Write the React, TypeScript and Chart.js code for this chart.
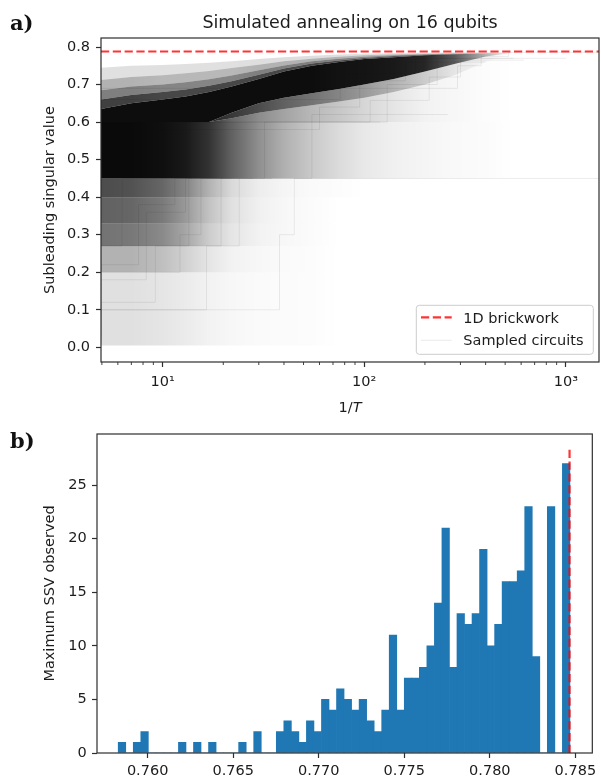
import React, { useEffect, useRef } from "react";
import { Chart, registerables } from "chart.js";

Chart.register(...registerables);

const SANS = "'DejaVu Sans', 'Noto Sans', sans-serif";
const SERIF = "'DejaVu Serif', 'Liberation Serif', serif";
const INK = "#1c1c1c";
const SPINE = "#2e2e2e";
const RED = "rgba(255, 0, 0, 0.8)";
const BLUE = "#1f77b4";
const FS = 14.5;

// ---------------- panel a) data ----------------
const A_TITLE = "Simulated annealing on 16 qubits";
const A_YLABEL = "Subleading singular value";
const A_XLABEL = "1/";
const A_XLABEL_VAR = "T";
const A_LEGEND_LABELS = ["1D brickwork", "Sampled circuits"];
const A_BRICKWORK = 0.788;
const A_X_LIMITS = [4.95, 1460];
const A_Y_LIMITS = [-0.039, 0.824];
const A_X_TICKS = [5, 6, 7, 8, 9, 10, 20, 30, 40, 50, 60, 70, 80, 90, 100, 200, 300, 400, 500, 600, 700, 800, 900, 1000];
const A_X_MAJOR = [10, 100, 1000];
const A_X_MAJOR_LABELS = ["10¹", "10²", "10³"];

// density of the sampled-circuit cloud
const CLOUD_X = [4.95, 7, 10, 13, 17, 22, 30, 40, 55, 75, 100, 140, 200, 280, 400, 550];
// plateau 0.45 - 0.60
const MID_EDGES = [0.45, 0.6];
const MID_ALPHA = [0.96, 0.96, 0.94, 0.9, 0.8, 0.62, 0.44, 0.31, 0.21, 0.14, 0.09, 0.06, 0.04, 0.025, 0.015, 0];
// above the 0.60 plateau, below the dense core
const UNDER_MID = [0.6, 0.6, 0.6, 0.6, 0.6, 0.61, 0.625, 0.635, 0.645, 0.655, 0.665, 0.68, 0.7, 0.725, 0.76, 0.785];
const UNDER1_ALPHA = [0.9, 0.9, 0.9, 0.9, 0.8, 0.6, 0.45, 0.36, 0.28, 0.22, 0.16, 0.1, 0.05, 0.03, 0.01, 0];
const UNDER2_ALPHA = [0.9, 0.9, 0.9, 0.9, 0.85, 0.78, 0.7, 0.62, 0.55, 0.48, 0.4, 0.3, 0.2, 0.1, 0.04, 0];
// dense core
const CORE_LOW = [0.6, 0.6, 0.6, 0.6, 0.6, 0.625, 0.65, 0.665, 0.677, 0.688, 0.7, 0.715, 0.735, 0.755, 0.775, 0.785];
const CORE_HIGH = [0.635, 0.65, 0.66, 0.668, 0.68, 0.695, 0.715, 0.735, 0.75, 0.76, 0.768, 0.773, 0.778, 0.781, 0.783, 0.785];
const CORE_ALPHA = [0.95, 0.95, 0.95, 0.95, 0.95, 0.95, 0.95, 0.95, 0.95, 0.93, 0.92, 0.9, 0.85, 0.65, 0.3, 0];
// fuzzy upper edge
const HALO_A = [0.66, 0.672, 0.68, 0.687, 0.697, 0.709, 0.726, 0.743, 0.756, 0.764, 0.771, 0.776, 0.78, 0.782, 0.784, 0.785];
const HALO_B = [0.685, 0.695, 0.7, 0.706, 0.714, 0.724, 0.738, 0.751, 0.762, 0.769, 0.774, 0.778, 0.781, 0.783, 0.785, 0.786];
const HALO_C = [0.712, 0.72, 0.725, 0.73, 0.736, 0.744, 0.753, 0.762, 0.769, 0.774, 0.778, 0.781, 0.783, 0.785, 0.786, 0.786];
const HALO_D = [0.745, 0.75, 0.752, 0.755, 0.758, 0.762, 0.768, 0.773, 0.777, 0.78, 0.782, 0.784, 0.785, 0.786, 0.786, 0.786];
const HALO_A_ALPHA = [0.75, 0.75, 0.72, 0.72, 0.72, 0.72, 0.72, 0.72, 0.72, 0.72, 0.7, 0.65, 0.58, 0.45, 0.2, 0.04];
const HALO_B_ALPHA = [0.5, 0.5, 0.48, 0.48, 0.48, 0.48, 0.5, 0.5, 0.5, 0.5, 0.48, 0.45, 0.4, 0.3, 0.14, 0.03];
const HALO_C_ALPHA = [0.3, 0.3, 0.28, 0.28, 0.28, 0.28, 0.3, 0.3, 0.3, 0.3, 0.28, 0.26, 0.22, 0.16, 0.08, 0.02];
const HALO_D_ALPHA = [0.12, 0.12, 0.12, 0.12, 0.12, 0.12, 0.13, 0.13, 0.13, 0.13, 0.12, 0.11, 0.09, 0.07, 0.04, 0.01];
// below the 0.45 plateau
const LOW_A_EDGES = [0.4, 0.45];
const LOW_A_ALPHA = [0.7, 0.68, 0.6, 0.48, 0.3, 0.15, 0.07, 0.04, 0.02, 0.01, 0, 0, 0, 0, 0, 0];
const LOW_B_EDGES = [0.33, 0.4];
const LOW_B_ALPHA = [0.62, 0.6, 0.52, 0.4, 0.24, 0.12, 0.06, 0.03, 0.015, 0, 0, 0, 0, 0, 0, 0];
const LOW_C_EDGES = [0.27, 0.33];
const LOW_C_ALPHA = [0.55, 0.53, 0.46, 0.35, 0.2, 0.1, 0.05, 0.03, 0.015, 0, 0, 0, 0, 0, 0, 0];
const LOW_D_EDGES = [0.2, 0.27];
const LOW_D_ALPHA = [0.3, 0.3, 0.25, 0.18, 0.1, 0.05, 0.03, 0.02, 0.01, 0, 0, 0, 0, 0, 0, 0];
const LOW_E_EDGES = [0.005, 0.2];
const LOW_E_ALPHA = [0.12, 0.12, 0.1, 0.08, 0.05, 0.03, 0.02, 0.015, 0.01, 0, 0, 0, 0, 0, 0, 0];

// individual faint annealing runs (x where a level starts, level)
const RUN_1 = [[4.95, 0.45], [1460, 0.45]];
const RUN_2 = [[4.95, 0.6], [290, 0.69], [380, 0.75], [520, 0.775], [760, 0.786], [1460, 0.786]];
const RUN_3 = [[4.95, 0.45], [107, 0.6], [210, 0.658], [300, 0.72], [420, 0.765], [620, 0.765]];
const RUN_4 = [[4.95, 0.45], [130, 0.6], [230, 0.7], [750, 0.77], [1000, 0.77]];
const RUN_5 = [[4.95, 0.6], [76, 0.66], [180, 0.73], [330, 0.77], [550, 0.77]];
const RUN_6 = [[4.95, 0.01], [38, 0.1], [45, 0.3], [55, 0.45], [140, 0.62], [260, 0.62]];
const RUN_7 = [[4.95, 0.2], [24, 0.27], [32, 0.45], [60, 0.6], [120, 0.6]];
const RUN_8 = [[4.95, 0.45], [60, 0.58], [95, 0.64], [160, 0.71], [250, 0.76], [400, 0.76]];
const RUN_9 = [[4.95, 0.08], [7.6, 0.22], [11.5, 0.38], [16, 0.45], [20, 0.45]];
const RUN_10 = [[4.95, 0.03], [9.2, 0.12], [13.5, 0.27], [18.5, 0.45], [24, 0.45]];
const RUN_11 = [[4.95, 0.15], [6.3, 0.27], [10.4, 0.45], [14, 0.45]];
const RUN_12 = [[4.95, 0.05], [12.2, 0.2], [15.5, 0.3], [21, 0.45], [28, 0.45]];
const RUN_13 = [[4.95, 0.1], [8.3, 0.18], [13, 0.36], [17, 0.45], [22, 0.45]];
const RUN_14 = [[4.95, 0.02], [16.5, 0.1], [19.5, 0.27], [26, 0.45], [35, 0.45]];

// ---------------- panel b) data ----------------
const B_YLABEL = "Maximum SSV observed";
const B_BRICKWORK = 0.78466;
const B_VLINE_TOP = 28.35;
const B_X_LIMITS = [0.75704, 0.78599];
const B_Y_LIMITS = [0, 29.77];
const HIST_START = 0.75828;
const HIST_BIN = 0.00044;
const HIST_COUNTS = [
  1, 0, 1, 2, 0, 0, 0, 0, 1, 0,
  1, 0, 1, 0, 0, 0, 1, 0, 2, 0,
  0, 2, 3, 2, 1, 3, 2, 5, 4, 6,
  5, 4, 5, 3, 2, 4, 11, 4, 7, 7,
  8, 10, 14, 21, 8, 13, 12, 13, 19, 10,
  12, 16, 16, 17, 23, 9, 0, 23, 0, 27,
];

Chart.defaults.font.family = SANS;
Chart.defaults.color = INK;

function alphaGradient(alphas: number[]) {
  return (c: any) => {
    const chart = c.chart;
    const xs = chart.scales && chart.scales.x;
    if (!chart.chartArea || !xs) return "rgba(0,0,0,0)";
    const p0 = xs.getPixelForValue(CLOUD_X[0]);
    const p1 = xs.getPixelForValue(CLOUD_X[CLOUD_X.length - 1]);
    const g = chart.ctx.createLinearGradient(p0, 0, p1, 0);
    CLOUD_X.forEach((x, i) => {
      const t = Math.min(1, Math.max(0, (xs.getPixelForValue(x) - p0) / (p1 - p0)));
      g.addColorStop(t, `rgba(0,0,0,${alphas[i]})`);
    });
    return g;
  };
}

const hidden = { borderWidth: 0, borderColor: "rgba(0,0,0,0)", pointRadius: 0, fill: false };

function bandPair(low: number[] | number, high: number[] | number, alpha: number[]) {
  const mk = (v: number[] | number) =>
    Array.isArray(v)
      ? CLOUD_X.map((x, i) => ({ x, y: v[i] }))
      : [{ x: CLOUD_X[0], y: v }, { x: CLOUD_X[CLOUD_X.length - 1], y: v }];
  return [
    { ...hidden, data: mk(low) },
    { ...hidden, data: mk(high), fill: "-1", backgroundColor: alphaGradient(alpha) },
  ];
}

function run(points: number[][]) {
  return {
    data: points.map(([x, y]) => ({ x, y })),
    stepped: "after",
    borderColor: "rgba(0,0,0,0.08)",
    borderWidth: 1,
    pointRadius: 0,
    fill: false,
  };
}

function line(ctx: CanvasRenderingContext2D, x0: number, y0: number, x1: number, y1: number) {
  ctx.beginPath();
  ctx.moveTo(x0, y0);
  ctx.lineTo(x1, y1);
  ctx.stroke();
}

function roundRect(ctx: CanvasRenderingContext2D, x: number, y: number, w: number, h: number, r: number) {
  ctx.beginPath();
  ctx.moveTo(x + r, y);
  ctx.lineTo(x + w - r, y);
  ctx.arcTo(x + w, y, x + w, y + r, r);
  ctx.lineTo(x + w, y + h - r);
  ctx.arcTo(x + w, y + h, x + w - r, y + h, r);
  ctx.lineTo(x + r, y + h);
  ctx.arcTo(x, y + h, x, y + h - r, r);
  ctx.lineTo(x, y + r);
  ctx.arcTo(x, y, x + r, y, r);
  ctx.closePath();
}

const spinesPlugin = {
  id: "spines",
  afterDraw(chart: any) {
    const { ctx, chartArea: ca } = chart;
    ctx.save();
    ctx.strokeStyle = SPINE;
    ctx.lineWidth = 1.2;
    ctx.strokeRect(ca.left, ca.top, ca.right - ca.left, ca.bottom - ca.top);
    ctx.restore();
  },
};

const panelAPlugin = {
  id: "panelA",
  afterDraw(chart: any) {
    const { ctx, chartArea: ca, scales } = chart;
    const xs = scales.x;
    ctx.save();
    // minor ticks of the log axis
    ctx.strokeStyle = SPINE;
    ctx.lineWidth = 0.9;
    A_X_TICKS.forEach((v) => {
      if (A_X_MAJOR.includes(v)) return;
      const p = xs.getPixelForValue(v);
      line(ctx, p, ca.bottom, p, ca.bottom + 3);
    });
    // title
    ctx.fillStyle = INK;
    ctx.textAlign = "center";
    ctx.textBaseline = "alphabetic";
    ctx.font = `17.5px ${SANS}`;
    ctx.fillText(A_TITLE, (ca.left + ca.right) / 2, ca.top - 9.7);
    // x label 1/T with italic T
    ctx.font = `${FS}px ${SANS}`;
    const w1 = ctx.measureText(A_XLABEL).width;
    ctx.font = `italic ${FS}px ${SANS}`;
    const w2 = ctx.measureText(A_XLABEL_VAR).width;
    const x0 = (ca.left + ca.right) / 2 - (w1 + w2) / 2;
    ctx.textAlign = "left";
    ctx.font = `${FS}px ${SANS}`;
    ctx.fillText(A_XLABEL, x0, ca.bottom + 50.3);
    ctx.font = `italic ${FS}px ${SANS}`;
    ctx.fillText(A_XLABEL_VAR, x0 + w1, ca.bottom + 50.3);
    // legend
    const bw = 177, bh = 49;
    const bx = ca.right - 5.7 - bw;
    const by = ca.bottom - 7.7 - bh;
    roundRect(ctx, bx, by, bw, bh, 3);
    ctx.fillStyle = "rgba(255,255,255,0.8)";
    ctx.fill();
    ctx.strokeStyle = "#cccccc";
    ctx.lineWidth = 1;
    ctx.stroke();
    ctx.strokeStyle = RED;
    ctx.lineWidth = 2.2;
    ctx.setLineDash([8.2, 3.6]);
    line(ctx, bx + 4.7, by + 12, bx + 35.4, by + 12);
    ctx.setLineDash([]);
    ctx.strokeStyle = "rgba(0,0,0,0.07)";
    ctx.lineWidth = 1.2;
    line(ctx, bx + 4.7, by + 35, bx + 35.4, by + 35);
    ctx.fillStyle = INK;
    ctx.font = `${FS}px ${SANS}`;
    ctx.fillText(A_LEGEND_LABELS[0], bx + 47, by + 17.2);
    ctx.fillText(A_LEGEND_LABELS[1], bx + 47, by + 39.5);
    ctx.restore();
  },
};

function configA(): any {
  const bands = [
    ...bandPair(LOW_E_EDGES[0], LOW_E_EDGES[1], LOW_E_ALPHA),
    ...bandPair(LOW_D_EDGES[0], LOW_D_EDGES[1], LOW_D_ALPHA),
    ...bandPair(LOW_C_EDGES[0], LOW_C_EDGES[1], LOW_C_ALPHA),
    ...bandPair(LOW_B_EDGES[0], LOW_B_EDGES[1], LOW_B_ALPHA),
    ...bandPair(LOW_A_EDGES[0], LOW_A_EDGES[1], LOW_A_ALPHA),
    ...bandPair(MID_EDGES[0], MID_EDGES[1], MID_ALPHA),
    ...bandPair(MID_EDGES[1], UNDER_MID, UNDER1_ALPHA),
    ...bandPair(UNDER_MID, CORE_LOW, UNDER2_ALPHA),
    ...bandPair(CORE_LOW, CORE_HIGH, CORE_ALPHA),
    ...bandPair(CORE_HIGH, HALO_A, HALO_A_ALPHA),
    ...bandPair(HALO_A, HALO_B, HALO_B_ALPHA),
    ...bandPair(HALO_B, HALO_C, HALO_C_ALPHA),
    ...bandPair(HALO_C, HALO_D, HALO_D_ALPHA),
  ];
  const runs = [RUN_1, RUN_2, RUN_3, RUN_4, RUN_5, RUN_6, RUN_7, RUN_8, RUN_9, RUN_10, RUN_11, RUN_12, RUN_13, RUN_14];
  return {
    type: "line",
    data: {
      datasets: [
        {
          data: [
            { x: A_X_LIMITS[0], y: A_BRICKWORK },
            { x: A_X_LIMITS[1], y: A_BRICKWORK },
          ],
          borderColor: RED,
          borderWidth: 2.2,
          borderDash: [8.2, 3.6],
          pointRadius: 0,
          fill: false,
        },
        ...runs.map(run),
        ...bands,
      ],
    },
    options: {
      animation: false,
      responsive: false,
      events: [],
      layout: { padding: { top: 38, right: 2, left: 0, bottom: 0 } },
      plugins: { legend: { display: false }, tooltip: { enabled: false } },
      scales: {
        x: {
          type: "logarithmic",
          min: A_X_LIMITS[0],
          max: A_X_LIMITS[1],
          afterBuildTicks: (s: any) => {
            s.ticks = A_X_TICKS.map((v) => ({ value: v, major: A_X_MAJOR.includes(v) }));
          },
          afterFit: (s: any) => {
            s.height = 58;
          },
          ticks: {
            autoSkip: false,
            maxRotation: 0,
            padding: 6.6,
            font: { size: FS },
            color: INK,
            callback: (v: number) => {
              const i = A_X_MAJOR.indexOf(v);
              return i >= 0 ? A_X_MAJOR_LABELS[i] : "";
            },
          },
          grid: {
            drawOnChartArea: false,
            drawTicks: true,
            tickLength: 5,
            tickWidth: 1.2,
            color: SPINE,
            tickColor: (c: any) => (c.tick && A_X_MAJOR.includes(c.tick.value) ? SPINE : "rgba(0,0,0,0)"),
          },
          border: { display: false },
        },
        y: {
          type: "linear",
          min: A_Y_LIMITS[0],
          max: A_Y_LIMITS[1],
          afterFit: (s: any) => {
            s.width = 101;
          },
          ticks: {
            stepSize: 0.1,
            includeBounds: false,
            padding: 6,
            font: { size: FS },
            color: INK,
            callback: (v: number) => v.toFixed(1),
          },
          title: {
            display: true,
            text: A_YLABEL,
            font: { size: FS },
            color: INK,
            padding: { top: 41.8, bottom: 0 },
          },
          grid: { drawOnChartArea: false, tickLength: 5, tickWidth: 1.2, color: SPINE },
          border: { display: false },
        },
      },
    },
    plugins: [spinesPlugin, panelAPlugin],
  };
}

function configB(): any {
  return {
    type: "bar",
    data: {
      datasets: [
        {
          type: "line",
          data: [
            { x: B_BRICKWORK, y: 0 },
            { x: B_BRICKWORK, y: B_VLINE_TOP },
          ],
          borderColor: RED,
          borderWidth: 2.2,
          borderDash: [8.2, 3.6],
          pointRadius: 0,
          fill: false,
        },
        {
          type: "bar",
          data: HIST_COUNTS.map((c, i) => ({ x: HIST_START + (i + 0.5) * HIST_BIN, y: c })),
          backgroundColor: BLUE,
          borderWidth: 0,
          barPercentage: 1,
          categoryPercentage: 1,
        },
      ],
    },
    options: {
      animation: false,
      responsive: false,
      events: [],
      layout: { padding: { top: 8, right: 5, left: 0, bottom: 0 } },
      plugins: { legend: { display: false }, tooltip: { enabled: false } },
      scales: {
        x: {
          type: "linear",
          min: B_X_LIMITS[0],
          max: B_X_LIMITS[1],
          offset: false,
          afterFit: (s: any) => {
            s.height = 27;
          },
          ticks: {
            stepSize: 0.005,
            includeBounds: false,
            autoSkip: false,
            maxRotation: 0,
            padding: 4.7,
            font: { size: FS },
            color: INK,
            callback: (v: number) => v.toFixed(3),
          },
          grid: { drawOnChartArea: false, offset: false, tickLength: 5, tickWidth: 1.2, color: SPINE },
          border: { display: false },
        },
        y: {
          type: "linear",
          min: B_Y_LIMITS[0],
          max: B_Y_LIMITS[1],
          afterFit: (s: any) => {
            s.width = 97;
          },
          ticks: {
            stepSize: 5,
            includeBounds: false,
            padding: 5.3,
            font: { size: FS },
            color: INK,
            callback: (v: number) => String(Math.round(v)),
          },
          title: {
            display: true,
            text: B_YLABEL,
            font: { size: FS },
            color: INK,
            padding: { top: 41.8, bottom: 0 },
          },
          grid: { drawOnChartArea: false, tickLength: 5, tickWidth: 1.2, color: SPINE },
          border: { display: false },
        },
      },
    },
    plugins: [spinesPlugin],
  };
}

export default function App() {
  const refA = useRef<HTMLCanvasElement>(null);
  const refB = useRef<HTMLCanvasElement>(null);

  useEffect(() => {
    const a = new Chart(refA.current as HTMLCanvasElement, configA());
    const b = new Chart(refB.current as HTMLCanvasElement, configB());
    return () => {
      a.destroy();
      b.destroy();
    };
  }, []);

  const panelLabel: React.CSSProperties = {
    position: "absolute",
    left: 10,
    font: `bold 21px ${SERIF}`,
    lineHeight: "21px",
    color: "#111",
    margin: 0,
  };

  return (
    <div
      style={{
        position: "fixed",
        left: 0,
        top: 0,
        width: 601,
        height: 780,
        background: "#ffffff",
        overflow: "hidden",
      }}
    >
      <canvas
        ref={refA}
        width={601}
        height={420}
        style={{ position: "absolute", left: 0, top: 0, width: 601, height: 420 }}
      />
      <canvas
        ref={refB}
        width={601}
        height={360}
        style={{ position: "absolute", left: 0, top: 420, width: 601, height: 360 }}
      />
      <div style={{ ...panelLabel, top: 12.2 }}>a)</div>
      <div style={{ ...panelLabel, top: 430.2 }}>b)</div>
    </div>
  );
}
